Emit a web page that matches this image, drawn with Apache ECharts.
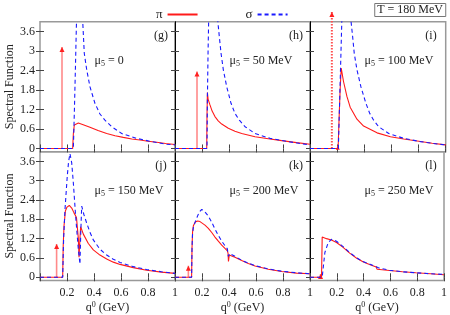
<!DOCTYPE html>
<html><head><meta charset="utf-8">
<script src="https://cdn.jsdelivr.net/npm/echarts@6/dist/echarts.min.js"></script>
<style>html,body{margin:0;padding:0;background:#fff}#c{width:450px;height:315px}</style>
</head><body><div id="c"></div><script>
// ---- data ----
const xTicks = [0, 0.2, 0.4, 0.6, 0.8, 1];
const yTicks = [0, 0.6, 1.2, 1.8, 2.4, 3, 3.6];
const panelTags = ['(g)', '(h)', '(i)', '(j)', '(k)', '(l)'];
const mu5Values = ['0', '50 MeV', '100 MeV', '150 MeV', '200 MeV', '250 MeV'];
const tempLabel = 'T = 180 MeV';

const piG = [[0,0],[0.242,0],[0.247,0.45],[0.254,0.72],[0.268,0.77],[0.284,0.78],[0.32,0.73],[0.37,0.65],[0.43,0.55],[0.494,0.46],[0.556,0.39],[0.617,0.34],[0.68,0.29],[0.741,0.26],[0.8,0.22],[0.864,0.19],[0.93,0.15],[1,0.12]];
const sigmaG = [[0,0],[0.247,0],[0.255,1.2],[0.262,2.4],[0.268,3.5],[0.274,4.5],[0.29,7],[0.31,4.6],[0.316,3.95],[0.328,2.93],[0.346,2.42],[0.37,1.9],[0.407,1.39],[0.444,1.06],[0.481,0.87],[0.531,0.67],[0.605,0.46],[0.716,0.31],[0.827,0.21],[0.938,0.13],[1,0.11]];
const piH = [[0,0],[0.235,0],[0.237,1.0],[0.24,1.72],[0.245,1.52],[0.259,1.34],[0.275,1.15],[0.296,0.98],[0.32,0.85],[0.346,0.75],[0.395,0.62],[0.444,0.53],[0.494,0.46],[0.593,0.36],[0.691,0.3],[0.79,0.24],[0.9,0.18],[1,0.13]];
const sigmaH = [[0,0],[0.237,0],[0.24,1.5],[0.245,3.0],[0.252,4.5],[0.28,7],[0.31,4.5],[0.316,3.96],[0.328,3.45],[0.341,2.93],[0.358,2.42],[0.383,1.9],[0.415,1.39],[0.444,1.08],[0.477,0.87],[0.519,0.67],[0.593,0.46],[0.704,0.31],[0.84,0.21],[0.963,0.13],[1,0.12]];
const piI = [[0,0],[0.207,0],[0.215,1.0],[0.222,1.8],[0.23,2.47],[0.247,2.06],[0.272,1.6],[0.296,1.27],[0.346,0.9],[0.395,0.69],[0.494,0.48],[0.593,0.36],[0.691,0.29],[0.79,0.23],[0.9,0.16],[1,0.11]];
const sigmaI = [[0,0],[0.209,0],[0.222,2.0],[0.235,4.0],[0.26,7],[0.29,4.6],[0.301,3.96],[0.314,3.45],[0.326,2.93],[0.346,2.42],[0.375,1.9],[0.412,1.39],[0.44,1.08],[0.469,0.87],[0.506,0.67],[0.58,0.46],[0.691,0.31],[0.815,0.21],[0.951,0.13],[1,0.11]];
const piJ = [[0,0],[0.168,0],[0.172,1.0],[0.178,1.6],[0.188,2.06],[0.2,2.18],[0.217,2.23],[0.235,2.15],[0.252,2.0],[0.27,1.86],[0.277,1.8],[0.284,1.2],[0.289,0.62],[0.296,1.2],[0.301,1.57],[0.321,1.34],[0.358,1.05],[0.395,0.85],[0.444,0.69],[0.494,0.57],[0.543,0.47],[0.593,0.4],[0.691,0.3],[0.79,0.22],[0.9,0.16],[1,0.12]];
const sigmaJ = [[0,0],[0.168,0],[0.175,1.2],[0.185,2.1],[0.202,3.14],[0.212,3.6],[0.222,3.84],[0.235,3.55],[0.247,2.93],[0.264,1.9],[0.284,0.87],[0.296,0.41],[0.302,1.4],[0.309,2.21],[0.325,1.95],[0.346,1.68],[0.37,1.4],[0.395,1.16],[0.444,0.87],[0.494,0.69],[0.543,0.56],[0.593,0.46],[0.691,0.33],[0.79,0.24],[0.9,0.17],[1,0.12]];
const piK = [[0,0],[0.123,0],[0.126,0.9],[0.13,1.4],[0.136,1.6],[0.15,1.72],[0.168,1.75],[0.185,1.73],[0.198,1.7],[0.222,1.62],[0.247,1.52],[0.272,1.39],[0.296,1.25],[0.321,1.12],[0.346,1.0],[0.37,0.9],[0.388,0.82],[0.393,0.74],[0.396,0.49],[0.402,0.69],[0.42,0.66],[0.444,0.62],[0.494,0.52],[0.543,0.43],[0.593,0.35],[0.691,0.25],[0.79,0.18],[0.9,0.13],[1,0.11]];
const sigmaK = [[0,0],[0.123,0],[0.126,0.9],[0.13,1.35],[0.136,1.55],[0.15,1.72],[0.165,1.88],[0.18,2.03],[0.198,2.11],[0.222,2.03],[0.247,1.9],[0.272,1.71],[0.296,1.5],[0.321,1.3],[0.346,1.12],[0.37,0.98],[0.388,0.88],[0.395,0.65],[0.405,0.74],[0.444,0.65],[0.494,0.53],[0.543,0.44],[0.593,0.36],[0.691,0.26],[0.79,0.19],[0.9,0.14],[1,0.11]];
const piL = [[0,0],[0.086,0],[0.091,1.25],[0.123,1.2],[0.16,1.16],[0.198,1.08],[0.247,0.93],[0.296,0.75],[0.346,0.6],[0.395,0.48],[0.444,0.4],[0.494,0.32],[0.501,0.25],[0.514,0.28],[0.593,0.21],[0.691,0.17],[0.79,0.14],[0.9,0.11],[1,0.08]];
const sigmaL = [[0,0],[0.091,0],[0.111,0.77],[0.136,1.08],[0.16,1.18],[0.198,1.12],[0.247,0.95],[0.296,0.77],[0.346,0.61],[0.395,0.49],[0.444,0.41],[0.494,0.33],[0.501,0.27],[0.514,0.29],[0.593,0.22],[0.691,0.17],[0.79,0.14],[0.9,0.11],[1,0.09]];

// delta-function arrows of the pion: position and height
const arrowQ = [0.163, 0.163, 0.161, 0.123, 0.099, 0.079];
const arrowH = [3.12, 2.37, 4.2, 1.03, 0.36, 0.1];
const extraArrowI = [0.205, 0.08];

const piData = [piG, piH, piI, piJ, piK, piL];
const sigmaData = [sigmaG, sigmaH, sigmaI, sigmaJ, sigmaK, sigmaL];

// ---- layout ----
const FONT = '"Liberation Serif", "Times New Roman", Times, serif';
const lefts = [40, 175, 310];
const widths = [135, 135, 135.7];
const tops = [21.7, 151.7];
const H = 130;
const tickStyle = {color: '#444', width: 1};

const grids = [], xAxes = [], yAxes = [], series = [], graphics = [];
for (let i = 0; i < 6; i++) {
  const row = Math.floor(i / 3), col = i % 3;
  grids.push({left: lefts[col], top: tops[row], width: widths[col], height: H,
    show: true, borderColor: '#999', borderWidth: 1.5, backgroundColor: 'transparent'});
  const bottomRow = row === 1;
  const xBase = {type: 'value', gridIndex: i, min: 0, max: 1, interval: 0.2,
    axisLine: {show: false}, splitLine: {show: false},
    axisTick: {show: true, inside: true, length: 4, lineStyle: tickStyle}};
  xAxes.push(Object.assign({}, xBase, {position: 'bottom',
    axisLabel: {show: bottomRow, margin: 6, fontFamily: FONT, fontSize: 12, color: '#222',
      formatter: v => (v === 0 ? '' : String(+v.toFixed(1)))},
    name: bottomRow ? '{a|q}{p|0}{a| (GeV)}' : '', nameLocation: 'middle', nameGap: 20,
    nameTextStyle: {fontFamily: FONT, fontSize: 12, color: '#222',
      rich: {a: {fontFamily: FONT, fontSize: 12, color: '#222'},
             p: {fontFamily: FONT, fontSize: 8, color: '#222', padding: [0, 0, 7, 0]}}}}));
  xAxes.push(Object.assign({}, xBase, {position: 'top', axisLabel: {show: false}}));
  const yBase = {type: 'value', gridIndex: i, min: -0.1, max: 3.9,
    splitLine: {show: false},
    axisTick: {show: true, inside: true, length: 4, customValues: yTicks, lineStyle: tickStyle}};
  yAxes.push(Object.assign({}, yBase, {position: 'left',
    axisLine: {show: col > 0, lineStyle: {color: '#000', width: 1}},
    axisLabel: {show: col === 0, customValues: yTicks, margin: 5, fontFamily: FONT, fontSize: 12, color: '#222'},
    name: col === 0 ? 'Spectral Function' : '', nameLocation: 'middle', nameGap: 24, nameRotate: 90,
    nameTextStyle: {fontFamily: FONT, fontSize: 12, color: '#222'}}));
  yAxes.push(Object.assign({}, yBase, {position: 'right', axisLine: {show: false},
    axisLabel: {show: false}}));

  // arrow (delta function)
  const dotted = i === 2;
  series.push({type: 'line', xAxisIndex: 2 * i, yAxisIndex: 2 * i, symbol: 'none',
    clip: !dotted, silent: true, z: 3,
    lineStyle: {color: dotted ? '#ff5050' : '#ff8a8a', width: dotted ? 2 : 1.6, type: dotted ? [1.5, 1.5] : 'solid'},
    data: [[arrowQ[i], 0], {value: [arrowQ[i], arrowH[i]], symbol: 'triangle', symbolSize: [5, 5],
      symbolOffset: [0, '50%'], itemStyle: {color: '#ff2020'}}]});
  if (i === 2) {
    series.push({type: 'line', xAxisIndex: 2 * i, yAxisIndex: 2 * i, symbol: 'none', silent: true, z: 3,
      lineStyle: {color: '#ff8a8a', width: 1.2},
      data: [[extraArrowI[0], 0], {value: [extraArrowI[0], extraArrowI[1]], symbol: 'triangle', symbolSize: [4, 4],
        symbolOffset: [0, '50%'], itemStyle: {color: '#ff2020'}}]});
  }
  series.push({name: 'π', type: 'line', xAxisIndex: 2 * i, yAxisIndex: 2 * i, symbol: 'none', showSymbol: false, z: 4,
    lineStyle: {color: '#ff1a1a', width: 1.1}, itemStyle: {color: '#ff1a1a'}, data: piData[i]});
  series.push({name: 'σ', type: 'line', xAxisIndex: 2 * i, yAxisIndex: 2 * i, symbol: 'none', showSymbol: false, z: 5,
    lineStyle: {color: '#1a1aff', width: 1.1, type: [4, 3]}, itemStyle: {color: '#1a1aff'}, data: sigmaData[i]});

  graphics.push({type: 'text', x: lefts[col] + 121, y: tops[row] + 14.5, z: 10,
    style: {text: panelTags[i], fontFamily: FONT, fontSize: 12, fill: '#222', align: 'center', verticalAlign: 'middle'}});
  graphics.push({type: 'text', x: lefts[col] + 54.5, y: tops[row] + 39, z: 10,
    style: {text: '{a|μ}{s|5}{a| = ' + mu5Values[i] + '}', align: 'left', verticalAlign: 'middle',
      fontFamily: FONT, fontSize: 12, fill: '#222',
      rich: {a: {fontFamily: FONT, fontSize: 12, fill: '#222'},
             s: {fontFamily: FONT, fontSize: 8, fill: '#222', padding: [6, 0, 0, 0]}}}});
}

const chart = echarts.init(document.getElementById('c'), null, {renderer: 'canvas'});
chart.setOption({
  animation: false,
  backgroundColor: '#fff',
  title: {text: tempLabel, right: 4, top: 3, padding: [1, 3], borderColor: '#777', borderWidth: 1,
    textStyle: {fontFamily: FONT, fontSize: 12, fontWeight: 'normal', color: '#222', lineHeight: 12}},
  legend: {data: ['π', 'σ'], left: 151, top: 3, itemWidth: 30, itemHeight: 10, itemGap: 47, align: 'right',
    itemStyle: {opacity: 0},
    textStyle: {fontFamily: FONT, fontSize: 13, color: '#222'}},
  grid: grids, xAxis: xAxes, yAxis: yAxes, series: series, graphic: graphics
});
</script></body></html>
